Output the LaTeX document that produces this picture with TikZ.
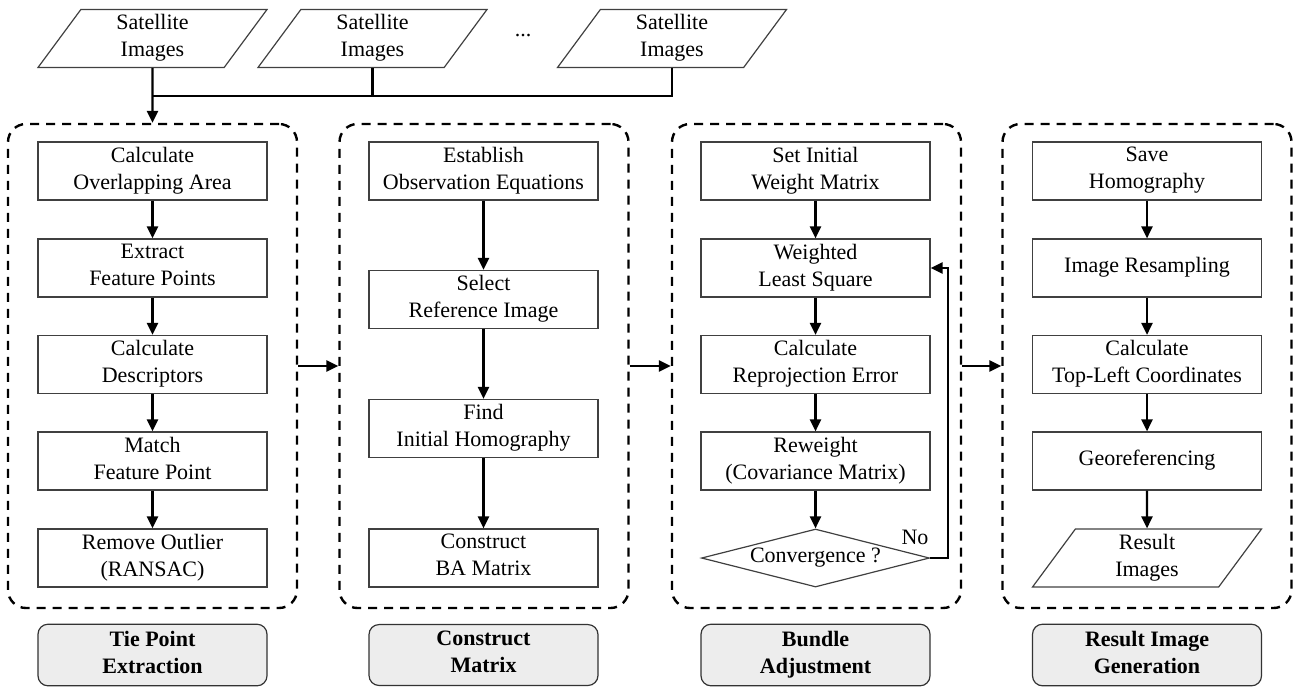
\documentclass[tikz,border=0pt]{standalone}
\usepackage{fontspec}
\setmainfont{Liberation Serif}
\usetikzlibrary{shapes.geometric,arrows.meta}

\begin{document}
\begin{tikzpicture}[x=0.5pt, y=-0.5pt, line width=1.2pt, >={Triangle[length=6pt,width=5.5pt]},
    every node/.style={font=\rmfamily\fontsize{11}{13.5}\selectfont, align=center},
    proc/.style={draw=black!75, line width=0.6pt, minimum width=114.5pt, minimum height=29pt, inner sep=2pt, text depth=3pt},
    io/.style={proc, trapezium, trapezium left angle=52.7, trapezium right angle=127.3, trapezium stretches body, minimum width=114.5pt},
    decision/.style={proc, diamond, aspect=4, minimum width=114pt, minimum height=29pt, inner sep=0pt},
    group/.style={draw, dash pattern=on 4.5pt off 3.5pt, line width=1.2pt, rounded corners=9pt, minimum width=144.5pt, minimum height=242pt},
    stage/.style={draw=black!80, line width=0.6pt, fill=black!7, rounded corners=5pt, minimum width=114.5pt, minimum height=29pt, text depth=3pt, font=\rmfamily\fontsize{11}{13.5}\selectfont\bfseries}]

    \useasboundingbox (0,0) rectangle (1293,687);

    % input images
    \node[io] (s1) at (152.5, 38.5) {Satellite\\Images};
    \node[io] (s2) at (372.5, 38.5) {Satellite\\Images};
    \node[io] (s3) at (672, 38.5) {Satellite\\Images};
    \node (dots) at (523, 36) {...};
    \coordinate (bus) at (152.5, 96);

    % stage frames
    \node[group] (g1) at (152.5, 366) {};
    \node[group] (g2) at (484, 366) {};
    \node[group] (g3) at (816.5, 366) {};
    \node[group] (g4) at (1147, 366) {};

    % tie point extraction
    \node[proc] (t1) at (152.5, 171) {Calculate\\Overlapping Area};
    \node[proc] (t2) at (152.5, 268) {Extract\\Feature Points};
    \node[proc] (t3) at (152.5, 364.5) {Calculate\\Descriptors};
    \node[proc] (t4) at (152.5, 461) {Match\\Feature Point};
    \node[proc] (t5) at (152.5, 558) {Remove Outlier\\(RANSAC)};

    % construct matrix
    \node[proc] (c1) at (483.5, 171) {Establish\\Observation Equations};
    \node[proc] (c2) at (483.5, 299.5) {Select\\Reference Image};
    \node[proc] (c3) at (483.5, 428.5) {Find\\Initial Homography};
    \node[proc] (c4) at (483.5, 558) {Construct\\BA Matrix};

    % bundle adjustment
    \node[proc] (b1) at (815.5, 171) {Set Initial\\Weight Matrix};
    \node[proc] (b2) at (815.5, 268) {Weighted\\Least Square};
    \node[proc] (b3) at (815.5, 364.5) {Calculate\\Reprojection Error};
    \node[proc] (b4) at (815.5, 461) {Reweight\\(Covariance Matrix)};
    \node[decision] (b5) at (815.5, 558) {Convergence ?};
    \node (no) at (915, 537) {No};

    % result image generation
    \node[proc] (r1) at (1147, 171) {Save\\Homography};
    \node[proc] (r2) at (1147, 268) {Image Resampling};
    \node[proc] (r3) at (1147, 364.5) {Calculate\\Top-Left Coordinates};
    \node[proc] (r4) at (1147, 461) {Georeferencing};
    \node[io] (r5) at (1147, 558) {Result\\Images};

    % stage labels
    \node[stage] (l1) at (152.5, 655) {Tie Point\\Extraction};
    \node[stage] (l2) at (483.5, 655) {Construct\\Matrix};
    \node[stage] (l3) at (815.5, 655) {Bundle\\Adjustment};
    \node[stage] (l4) at (1147, 655) {Result Image\\Generation};

    \path[->] (s1) edge (g1);
    \draw (s2.south) |- (bus);
    \draw (s3.south) |- (bus);

    \path[->] (t1) edge (t2);
    \path[->] (t2) edge (t3);
    \path[->] (t3) edge (t4);
    \path[->] (t4) edge (t5);
    \path[->] (c1) edge (c2);
    \path[->] (c2) edge (c3);
    \path[->] (c3) edge (c4);
    \path[->] (b1) edge (b2);
    \path[->] (b2) edge (b3);
    \path[->] (b3) edge (b4);
    \path[->] (b4) edge (b5);
    \draw[->] (b5.east) -- ++(18,0) |- (b2.east);
    \path[->] (r1) edge (r2);
    \path[->] (r2) edge (r3);
    \path[->] (r3) edge (r4);
    \path[->] (r4) edge (r5);

    \path[->] (g1) edge (g2);
    \path[->] (g2) edge (g3);
    \path[->] (g3) edge (g4);
\end{tikzpicture}
\end{document}
